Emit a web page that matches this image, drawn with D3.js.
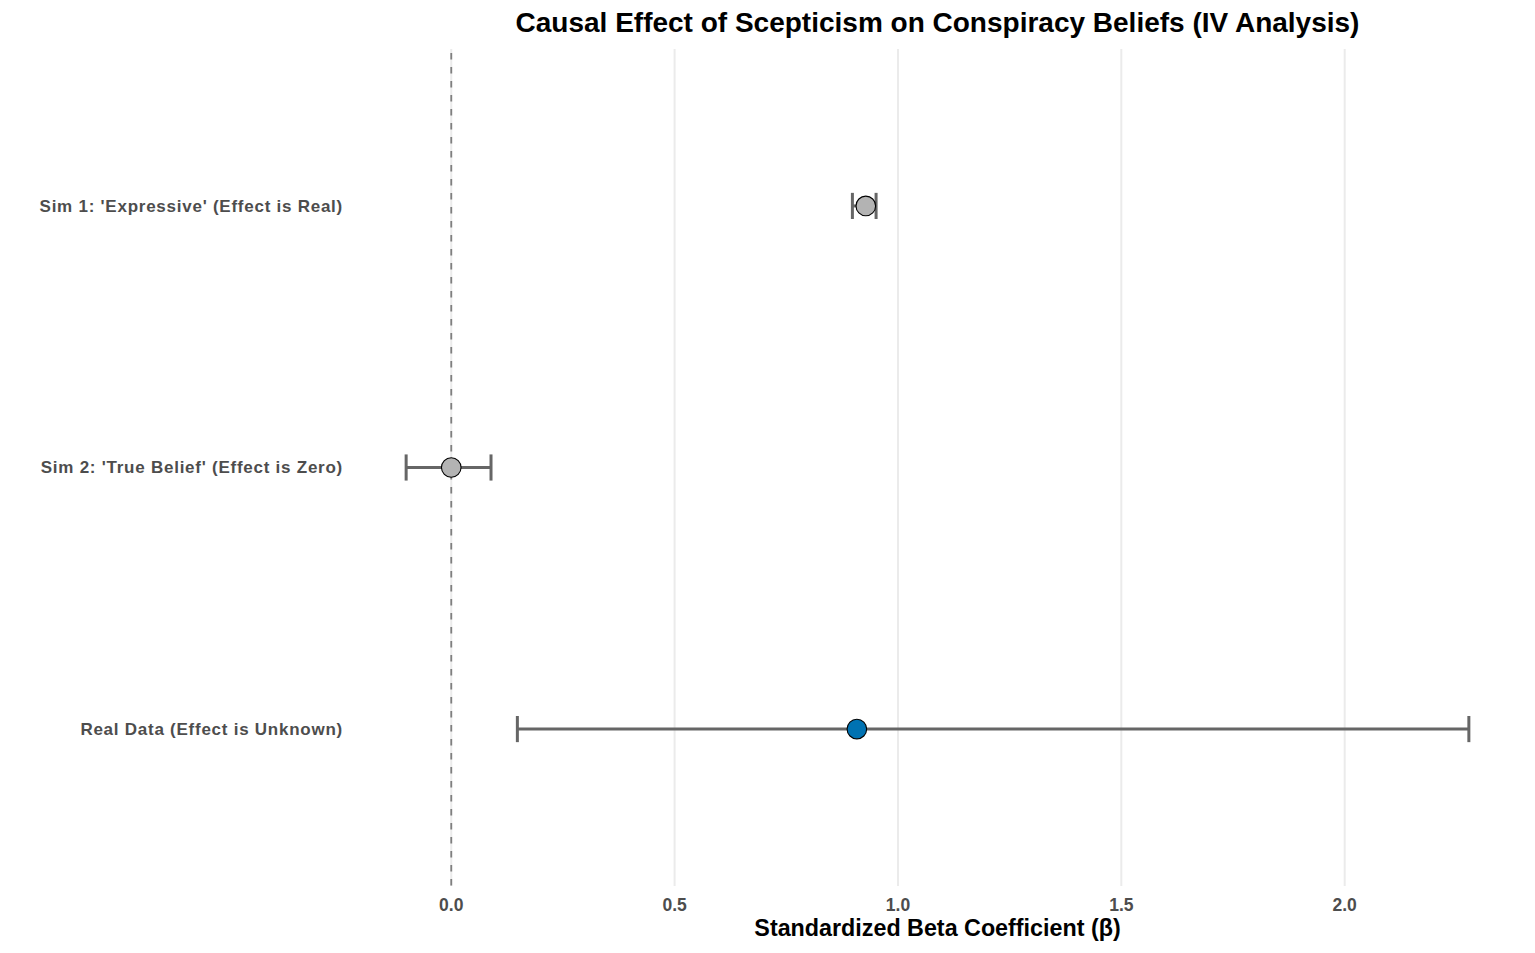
<!DOCTYPE html>
<html><head><meta charset="utf-8">
<script src="https://cdn.jsdelivr.net/npm/d3@7"></script>
<style>body{margin:0;background:#fff;}svg{display:block;font-family:"Liberation Sans",Arial,sans-serif;}</style>
</head><body><svg id="c" width="1535" height="953"></svg>
<script>
const categories = ["Sim 1: 'Expressive' (Effect is Real)", "Sim 2: 'True Belief' (Effect is Zero)", "Real Data (Effect is Unknown)"];
const estimates = [0.928, 0.0, 0.908];
const lower = [0.898, -0.101, 0.148];
const upper = [0.951, 0.089, 2.278];
const fills = ["#B3B3B3", "#B3B3B3", "#0072B2"];
const xTicks = [0, 0.5, 1.0, 1.5, 2.0];
const xTickLabels = ["0.0", "0.5", "1.0", "1.5", "2.0"];

(function () {
const svg = d3.select("#c");
const pLeft = 353, pRight = 1522, pTop = 49, pBottom = 886;
const lo = d3.min(lower), hi = d3.max(upper), pad = (hi - lo) * 0.05;
const x = d3.scaleLinear().domain([lo - pad, hi + pad]).range([pLeft, pRight]);
const y = d3.scalePoint().domain(categories).range([pTop, pBottom]).padding(0.6);

svg.append("g").selectAll("line").data(xTicks).join("line")
  .attr("x1", d => x(d)).attr("x2", d => x(d)).attr("y1", pTop).attr("y2", pBottom)
  .attr("stroke", "#EBEBEB").attr("stroke-width", 2);

svg.append("line").attr("x1", x(0)).attr("x2", x(0)).attr("y1", pTop).attr("y2", pBottom)
  .attr("stroke", "#7F7F7F").attr("stroke-width", 1.8).attr("stroke-dasharray", "6.5,7.5")
  .attr("stroke-dashoffset", -4);

const step = y.step();
const capH = step * 0.1;
const rows = categories.map((c, i) => ({c, e: estimates[i], l: lower[i], u: upper[i], f: fills[i]}));
const g = svg.append("g");
rows.forEach(r => {
  const cy = y(r.c);
  g.append("line").attr("x1", x(r.l)).attr("x2", x(r.u)).attr("y1", cy).attr("y2", cy)
    .attr("stroke", "#666666").attr("stroke-width", 3);
  [r.l, r.u].forEach(v => g.append("line").attr("x1", x(v)).attr("x2", x(v))
    .attr("y1", cy - capH/2).attr("y2", cy + capH/2).attr("stroke", "#666666").attr("stroke-width", 3));
  g.append("circle").attr("cx", x(r.e)).attr("cy", cy).attr("r", 9.8)
    .attr("fill", r.f).attr("stroke", "#000").attr("stroke-width", 1.1);
});

svg.append("g").selectAll("text").data(xTicks).join("text")
  .attr("x", d => x(d)).attr("y", 910.5).attr("text-anchor", "middle")
  .attr("font-size", 17.5).attr("font-weight", "bold").attr("fill", "#4D4D4D")
  .text((d, i) => xTickLabels[i]);

svg.append("g").selectAll("text").data(categories).join("text")
  .attr("x", 343).attr("y", d => y(d)).attr("dy", "0.35em").attr("text-anchor", "end")
  .attr("font-size", 17).attr("letter-spacing", 0.75).attr("font-weight", "bold").attr("fill", "#4D4D4D")
  .text(d => d);

svg.append("text").attr("x", (pLeft + pRight) / 2).attr("y", 936).attr("text-anchor", "middle")
  .attr("font-size", 23.3).attr("font-weight", "bold").attr("fill", "#000")
  .text("Standardized Beta Coefficient (β)");

svg.append("text").attr("x", (pLeft + pRight) / 2).attr("y", 32).attr("text-anchor", "middle")
  .attr("font-size", 28).attr("font-weight", "bold").attr("fill", "#000")
  .text("Causal Effect of Scepticism on Conspiracy Beliefs (IV Analysis)");
})();
</script></body></html>
